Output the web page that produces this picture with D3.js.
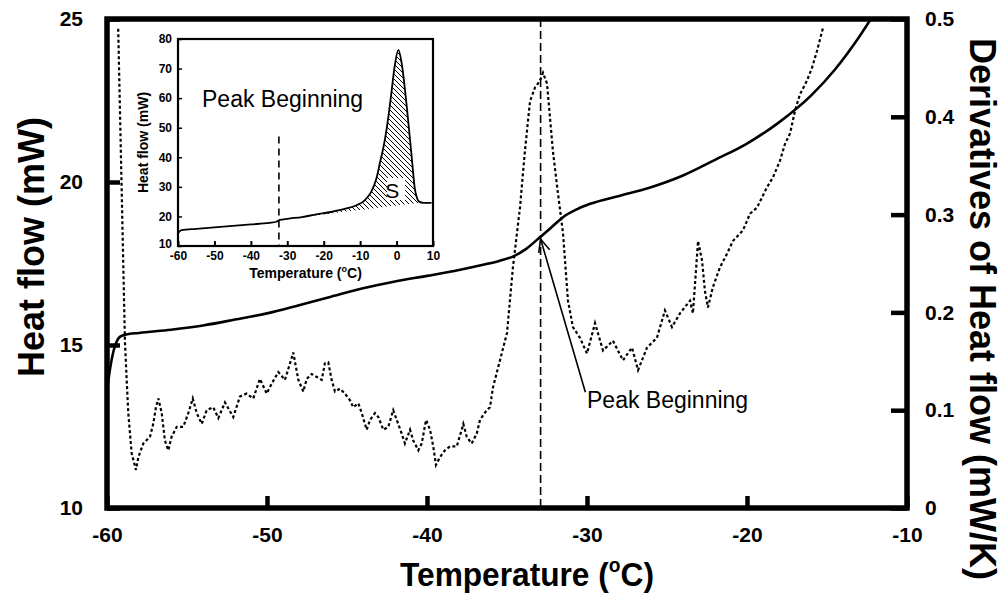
<!DOCTYPE html>
<html lang="en">
<head>
    <meta charset="UTF-8">
    <title>Heat flow and derivative</title>
    <script src="https://d3js.org/d3.v7.min.js"></script>
    <style>
        body { margin: 0; background: #fff; }
        text { font-family: "Liberation Sans", Arial, sans-serif; }
    </style>
</head>
<body>
    <div id="chart"></div>
    <script>
        // Main chart: heat flow (left axis)
        const hfTemp = [-60, -59.8, -59.6, -59.4, -59.2, -58.8, -58.0, -56.0, -54.0, -52.0, -50.0, -48.0, -46.0, -44.0, -42.0, -40.0, -38.0, -36.5, -35.5, -34.6, -33.8, -33.0, -32.2, -31.5, -30.6, -29.8, -28.0, -26.0, -24.0, -22.0, -20.0, -18.0, -16.0, -14.5, -13.2, -12.0];
        const heatFlow = [13.6, 14.3, 14.8, 15.1, 15.25, 15.32, 15.37, 15.47, 15.6, 15.78, 15.97, 16.22, 16.48, 16.74, 16.95, 17.12, 17.3, 17.46, 17.58, 17.72, 17.95, 18.28, 18.62, 18.92, 19.17, 19.33, 19.57, 19.84, 20.2, 20.68, 21.18, 21.83, 22.65, 23.45, 24.3, 25.2];

        // Main chart: derivative of heat flow (right axis)
        const derivTemp = [-59.3, -58.88, -58.77, -58.67, -58.46, -58.19, -58.04, -57.73, -57.31, -57.11, -56.94, -56.79, -56.58, -56.38, -56.17, -55.96, -55.64, -55.23, -54.92, -54.64, -54.39, -54.08, -53.77, -53.36, -53.04, -52.63, -52.11, -51.69, -51.27, -50.86, -50.44, -50.02, -49.71, -49.29, -48.88, -48.56, -48.36, -48.04, -47.73, -47.52, -47.21, -46.89, -46.58, -46.38, -46.17, -45.96, -45.75, -45.44, -45.13, -44.81, -44.61, -44.29, -44.08, -43.77, -43.56, -43.25, -43.04, -42.73, -42.42, -42.11, -41.89, -41.58, -41.38, -41.06, -40.86, -40.54, -40.33, -40.06, -39.81, -39.61, -39.44, -39.19, -38.88, -38.56, -38.14, -37.83, -37.73, -37.52, -37.21, -36.89, -36.69, -36.27, -36.06, -35.88, -35.0, -34.63, -34.19, -33.88, -33.56, -33.25, -32.94, -32.75, -32.5, -32.13, -31.81, -31.5, -31.19, -30.88, -30.44, -30.0, -29.5, -29.0, -28.38, -27.75, -27.19, -26.81, -26.25, -25.63, -25.13, -24.69, -24.19, -23.56, -23.38, -23.06, -22.81, -22.63, -22.44, -22.13, -21.69, -21.25, -20.88, -20.25, -19.81, -19.38, -18.75, -18.38, -17.94, -17.63, -17.31, -17.0, -16.69, -16.25, -15.94, -15.63, -15.25];
        const deriv = [0.49, 0.171, 0.131, 0.097, 0.056, 0.039, 0.052, 0.066, 0.073, 0.086, 0.103, 0.112, 0.097, 0.069, 0.059, 0.073, 0.083, 0.083, 0.097, 0.112, 0.097, 0.086, 0.1, 0.103, 0.092, 0.108, 0.093, 0.114, 0.117, 0.112, 0.132, 0.117, 0.127, 0.139, 0.131, 0.148, 0.159, 0.131, 0.119, 0.132, 0.137, 0.134, 0.131, 0.148, 0.149, 0.131, 0.119, 0.122, 0.117, 0.110, 0.103, 0.107, 0.097, 0.080, 0.090, 0.097, 0.093, 0.080, 0.083, 0.100, 0.090, 0.076, 0.066, 0.080, 0.069, 0.059, 0.066, 0.090, 0.080, 0.063, 0.044, 0.052, 0.059, 0.063, 0.063, 0.080, 0.086, 0.073, 0.066, 0.076, 0.090, 0.100, 0.103, 0.123, 0.179, 0.246, 0.307, 0.365, 0.416, 0.430, 0.437, 0.445, 0.434, 0.365, 0.321, 0.281, 0.212, 0.185, 0.174, 0.158, 0.189, 0.161, 0.171, 0.151, 0.164, 0.141, 0.164, 0.174, 0.202, 0.185, 0.199, 0.212, 0.199, 0.273, 0.253, 0.222, 0.205, 0.226, 0.246, 0.260, 0.273, 0.284, 0.301, 0.307, 0.328, 0.338, 0.355, 0.372, 0.383, 0.406, 0.423, 0.437, 0.450, 0.467, 0.491];

        const xTicks = [-60, -50, -40, -30, -20, -10];
        const leftTicks = [10, 15, 20, 25];
        const rightTicks = [0, 0.1, 0.2, 0.3, 0.4, 0.5];
        const peakT = -32.9;          // dashed line / arrow
        const arrowTip = [-32.9, 18.25];
        const arrowTail = [-30.1, 13.55];

        // Inset: full DSC curve
        const insetTemp = [-60, -59.6, -59.0, -55, -50, -45, -40, -35, -33, -32, -30, -26, -22, -18, -14, -11, -9, -8, -7, -5.5, -4.5, -3.5, -2.5, -1.5, -0.5, 0.5, 1.4, 2.8, 4.15, 5.0, 5.6, 6.2, 7.3, 9.6];
        const insetHF = [14.2, 14.9, 15.4, 15.8, 16.3, 16.8, 17.3, 17.8, 18.2, 18.8, 19.2, 19.8, 20.7, 21.5, 22.6, 23.8, 25.2, 26.5, 28.2, 33, 38.5, 44, 51.5, 61, 71, 76.3, 71.8, 57.1, 40.2, 29.5, 26.2, 25.0, 24.6, 24.6];
        const insetXTicks = [-60, -50, -40, -30, -20, -10, 0, 10];
        const insetYTicks = [10, 20, 30, 40, 50, 60, 70, 80];
        const insetPeakT = -32.3;
        const insetDashTop = 47;
        const hatchFrom = [-31, 19.1];   // baseline of area S
        const hatchTo = [6, 24.6];

        const width = 1004, height = 597;
        const m = { left: 107, right: 907, top: 19, bottom: 508 };

        const svg = d3.select("#chart").append("svg")
            .attr("width", width)
            .attr("height", height);

        const x = d3.scaleLinear().domain([-60, -10]).range([m.left, m.right]);
        const yL = d3.scaleLinear().domain([10, 25]).range([m.bottom, m.top]);
        const yR = d3.scaleLinear().domain([0, 0.5]).range([m.bottom, m.top]);

        const defs = svg.append("defs");
        defs.append("clipPath").attr("id", "plotClip")
            .append("rect")
            .attr("x", m.left).attr("y", m.top)
            .attr("width", m.right - m.left).attr("height", m.bottom - m.top);

        // Dashed marker line
        svg.append("line")
            .attr("x1", x(peakT)).attr("x2", x(peakT))
            .attr("y1", m.top).attr("y2", m.bottom)
            .attr("stroke", "#000").attr("stroke-width", 1.6)
            .attr("stroke-dasharray", "8,4");

        // Derivative curve (dotted)
        const derivPts = derivTemp.map((t, i) => [t, deriv[i]]);
        svg.append("path")
            .datum(derivPts)
            .attr("clip-path", "url(#plotClip)")
            .attr("fill", "none")
            .attr("stroke", "#000")
            .attr("stroke-width", 2.2)
            .attr("stroke-dasharray", "3,2.5")
            .attr("d", d3.line().x(d => x(d[0])).y(d => yR(d[1])));

        // Heat flow curve (solid)
        const hfPts = hfTemp.map((t, i) => [t, heatFlow[i]]);
        svg.append("path")
            .datum(hfPts)
            .attr("clip-path", "url(#plotClip)")
            .attr("fill", "none")
            .attr("stroke", "#000")
            .attr("stroke-width", 2.6)
            .attr("d", d3.line().curve(d3.curveMonotoneX).x(d => x(d[0])).y(d => yL(d[1])));

        // Axes (ticks point inward)
        const tickFont = g => g.selectAll("text")
            .attr("font-family", "Liberation Sans, Arial, sans-serif")
            .attr("font-weight", "bold")
            .attr("font-size", 21)
            .attr("fill", "#000");

        const bottomAxis = svg.append("g")
            .attr("transform", `translate(0,${m.bottom})`)
            .call(d3.axisBottom(x).tickValues(xTicks).tickSize(-12).tickPadding(19).tickFormat(d => String(d)))
            .call(g => g.select(".domain").remove())
            .call(tickFont);
        bottomAxis.selectAll("line").attr("stroke-width", 4.5);

        const leftAxis = svg.append("g")
            .attr("transform", `translate(${m.left},0)`)
            .call(d3.axisLeft(yL).tickValues(leftTicks).tickSize(-13).tickPadding(24).tickFormat(d => String(d)))
            .call(g => g.select(".domain").remove())
            .call(tickFont);
        leftAxis.selectAll("line").attr("stroke-width", 4.5);

        const rightAxis = svg.append("g")
            .attr("transform", `translate(${m.right},0)`)
            .call(d3.axisRight(yR).tickValues(rightTicks).tickSize(-16).tickPadding(18).tickFormat(d => d === 0 ? "0" : d3.format(".1f")(d)))
            .call(g => g.select(".domain").remove())
            .call(tickFont);
        rightAxis.selectAll("line").attr("stroke-width", 4.5);

        // Frame
        svg.append("rect")
            .attr("x", m.left).attr("y", m.top)
            .attr("width", m.right - m.left).attr("height", m.bottom - m.top)
            .attr("fill", "none").attr("stroke", "#000").attr("stroke-width", 5.5);

        // Axis titles
        svg.append("text")
            .attr("transform", `translate(${(m.left + m.right) / 2 + 20},586) scale(0.96,1)`)
            .attr("text-anchor", "middle")
            .attr("font-weight", "bold").attr("font-size", 33)
            .call(t => {
                t.append("tspan").text("Temperature (");
                t.append("tspan").attr("font-size", 20).attr("dy", -14).text("o");
                t.append("tspan").attr("dy", 14).text("C)");
            });

        svg.append("text")
            .attr("transform", "translate(44,247) rotate(-90)")
            .attr("text-anchor", "middle")
            .attr("font-weight", "bold").attr("font-size", 36)
            .text("Heat flow (mW)");

        svg.append("text")
            .attr("transform", "translate(970,309) rotate(90)")
            .attr("text-anchor", "middle")
            .attr("font-weight", "bold").attr("font-size", 36)
            .text("Derivatives of Heat flow (mW/K)");

        // Arrow annotation
        const ax1 = x(arrowTail[0]), ay1 = yL(arrowTail[1]);
        const ax2 = x(arrowTip[0]), ay2 = yL(arrowTip[1]);
        const ang = Math.atan2(ay1 - ay2, ax1 - ax2);
        const headLen = 14, headAng = 0.42;
        svg.append("line")
            .attr("x1", ax1).attr("y1", ay1).attr("x2", ax2).attr("y2", ay2)
            .attr("stroke", "#000").attr("stroke-width", 1.6);
        svg.append("path")
            .attr("d", `M${ax2 + headLen * Math.cos(ang - headAng)},${ay2 + headLen * Math.sin(ang - headAng)} L${ax2},${ay2} L${ax2 + headLen * Math.cos(ang + headAng)},${ay2 + headLen * Math.sin(ang + headAng)}`)
            .attr("fill", "none").attr("stroke", "#000").attr("stroke-width", 1.6);
        svg.append("text")
            .attr("x", x(-30.0)).attr("y", 408)
            .attr("font-size", 23)
            .text("Peak Beginning");

        // ---------- Inset ----------
        const im = { left: 178, right: 433, top: 39, bottom: 246 };
        const ix = d3.scaleLinear().domain([-60, 10]).range([im.left, im.right]);
        const iy = d3.scaleLinear().domain([10, 80]).range([im.bottom, im.top]);

        svg.append("rect")
            .attr("x", im.left).attr("y", im.top)
            .attr("width", im.right - im.left).attr("height", im.bottom - im.top)
            .attr("fill", "#fff");

        defs.append("pattern")
            .attr("id", "hatch")
            .attr("patternUnits", "userSpaceOnUse")
            .attr("width", 5).attr("height", 5)
            .append("path")
            .attr("d", "M-1,-1 L6,6 M-1,4 L1,6 M4,-1 L6,1")
            .attr("stroke", "#000").attr("stroke-width", 1);

        defs.append("clipPath").attr("id", "hatchClip")
            .append("rect")
            .attr("x", ix(hatchFrom[0])).attr("y", im.top)
            .attr("width", ix(hatchTo[0]) - ix(hatchFrom[0])).attr("height", im.bottom - im.top);

        const base = d3.scaleLinear().domain([hatchFrom[0], hatchTo[0]]).range([hatchFrom[1], hatchTo[1]]);
        const insetPts = insetTemp.map((t, i) => [t, insetHF[i]]);

        svg.append("path")
            .datum(insetPts.filter(d => d[0] >= hatchFrom[0] - 2 && d[0] <= hatchTo[0] + 2))
            .attr("clip-path", "url(#hatchClip)")
            .attr("fill", "url(#hatch)")
            .attr("d", d3.area().curve(d3.curveMonotoneX)
                .x(d => ix(d[0]))
                .y0(d => iy(base(d[0])))
                .y1(d => iy(d[1])));

        // S label with white box
        svg.append("rect")
            .attr("x", ix(-2.6)).attr("y", iy(33))
            .attr("width", 18).attr("height", 22)
            .attr("fill", "#fff");
        svg.append("text")
            .attr("x", ix(-1.2)).attr("y", iy(26.1))
            .attr("text-anchor", "middle")
            .attr("font-size", 21)
            .text("S");

        svg.append("path")
            .datum(insetPts)
            .attr("fill", "none")
            .attr("stroke", "#000").attr("stroke-width", 1.8)
            .attr("d", d3.line().curve(d3.curveMonotoneX).x(d => ix(d[0])).y(d => iy(d[1])));

        svg.append("line")
            .attr("x1", ix(insetPeakT)).attr("x2", ix(insetPeakT))
            .attr("y1", iy(insetDashTop)).attr("y2", im.bottom)
            .attr("stroke", "#000").attr("stroke-width", 1.6)
            .attr("stroke-dasharray", "7,5");

        const insetFont = g => g.selectAll("text")
            .attr("font-family", "Liberation Sans, Arial, sans-serif")
            .attr("font-weight", "bold")
            .attr("font-size", 12)
            .attr("fill", "#000");

        svg.append("g")
            .attr("transform", `translate(0,${im.bottom})`)
            .call(d3.axisBottom(ix).tickValues(insetXTicks).tickSize(-5).tickPadding(5).tickFormat(d => String(d)))
            .call(g => g.select(".domain").remove())
            .call(g => g.selectAll("line").attr("stroke-width", 2))
            .call(insetFont);

        svg.append("g")
            .attr("transform", `translate(${im.left},0)`)
            .call(d3.axisLeft(iy).tickValues(insetYTicks).tickSize(-4).tickPadding(6).tickFormat(d => String(d)))
            .call(g => g.select(".domain").remove())
            .call(g => g.selectAll("line").attr("stroke-width", 1.5))
            .call(g => g.selectAll(".tick text").filter(d => d === 10).attr("dy", "0.1em"))
            .call(insetFont);

        svg.append("rect")
            .attr("x", im.left).attr("y", im.top)
            .attr("width", im.right - im.left).attr("height", im.bottom - im.top)
            .attr("fill", "none").attr("stroke", "#000").attr("stroke-width", 2.2);

        svg.append("text")
            .attr("transform", `translate(${(im.left + im.right) / 2},278)`)
            .attr("text-anchor", "middle")
            .attr("font-weight", "bold").attr("font-size", 14)
            .call(t => {
                t.append("tspan").text("Temperature (");
                t.append("tspan").attr("font-size", 9).attr("dy", -6).text("o");
                t.append("tspan").attr("dy", 6).text("C)");
            });

        svg.append("text")
            .attr("transform", `translate(148,${(im.top + im.bottom) / 2}) rotate(-90)`)
            .attr("text-anchor", "middle")
            .attr("font-weight", "bold").attr("font-size", 14)
            .text("Heat flow (mW)");

        svg.append("text")
            .attr("x", ix(-53.4)).attr("y", iy(57))
            .attr("font-size", 23)
            .text("Peak Beginning");
    </script>
</body>
</html>
